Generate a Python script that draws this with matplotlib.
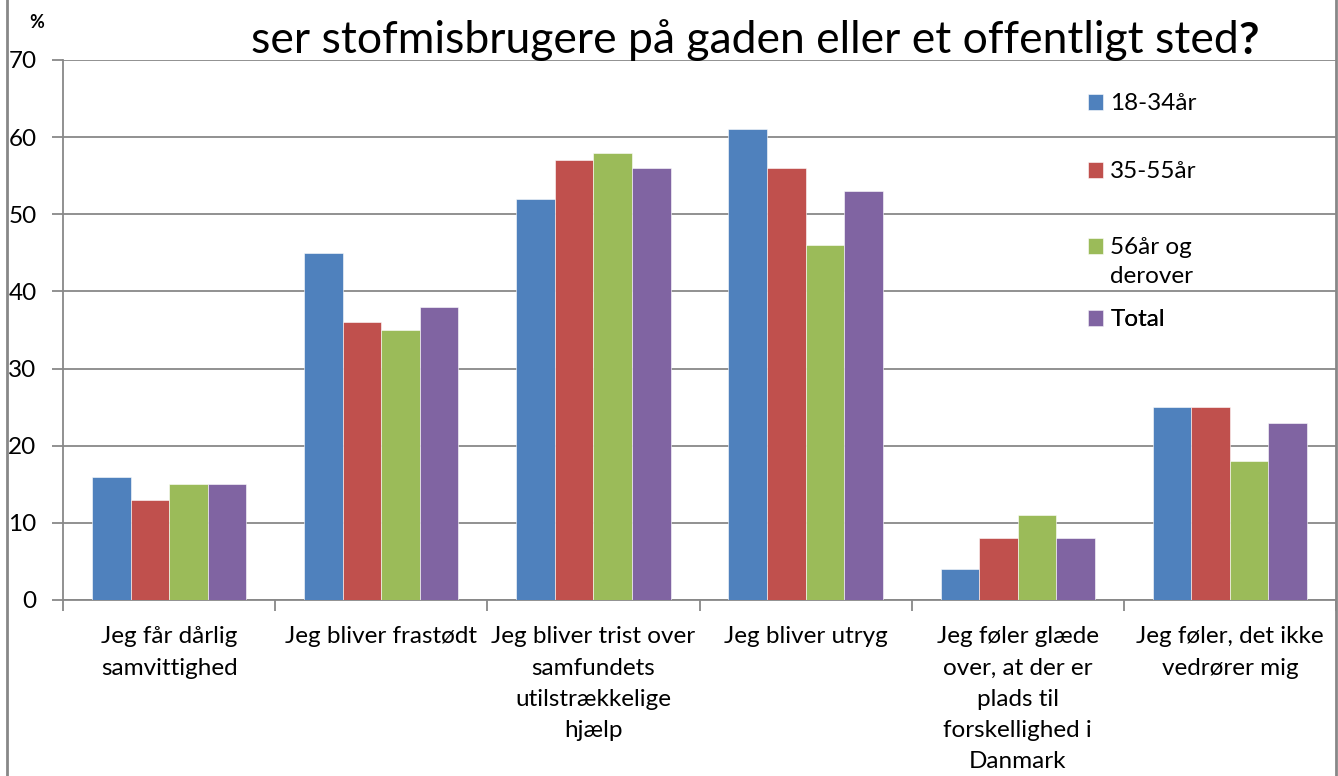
import matplotlib.pyplot as plt
import numpy as np
from matplotlib.patches import Rectangle

plt.rcParams['font.family'] = ['Lato', 'DejaVu Sans']

categories = [
    "Jeg får dårlig\nsamvittighed",
    "Jeg bliver frastødt",
    "Jeg bliver trist over\nsamfundets\nutilstrækkelige\nhjælp",
    "Jeg bliver utryg",
    "Jeg føler glæde\nover, at der er\nplads til\nforskellighed i\nDanmark",
    "Jeg føler, det ikke\nvedrører mig",
]
series_names = ["18-34år", "35-55år", "56år og\nderover", "Total"]
age_18_34 = [16, 45, 52, 61, 4, 25]
age_35_55 = [13, 36, 57, 56, 8, 25]
age_56_plus = [15, 35, 58, 46, 11, 18]
total = [15, 38, 56, 53, 8, 23]
colors = ["#4F81BD", "#C0504D", "#9BBB59", "#8064A2"]

fs = 17.5
fig = plt.figure(figsize=(13.38, 7.76), dpi=100)
ax = fig.add_axes([63 / 1338, 176 / 776, 1273 / 1338, 540 / 776])

x = np.arange(len(categories))
w = 1 / 5.5
handles = []
for i, vals in enumerate([age_18_34, age_35_55, age_56_plus, total]):
    b = ax.bar(x + (i - 1.5) * w, vals, width=w, color=colors[i],
               edgecolor='white', linewidth=0.4, zorder=3)
    handles.append(b)

ax.set_xlim(-0.5, len(categories) - 0.5)
ax.set_ylim(0, 70)
ax.set_yticks(range(0, 71, 10))
ax.yaxis.grid(True, color='#888888', linewidth=1.3, zorder=0)
ax.tick_params(axis='y', length=8, width=1.3, color='#888888', labelsize=fs, pad=11)

ax.set_xticks(x)
ax.set_xticklabels(categories, fontsize=fs, linespacing=1.6, va='top')
ax.tick_params(axis='x', length=0, pad=19)
ax.set_xticks(np.arange(-0.5, len(categories)), minor=True)
ax.tick_params(axis='x', which='minor', length=8, width=1.3, color='#888888')

for s in ['top', 'right']:
    ax.spines[s].set_visible(False)
for s in ['left', 'bottom']:
    ax.spines[s].set_color('#888888')
    ax.spines[s].set_linewidth(1.3)

# legend entries placed one by one, like the Excel layout
leg_y = [104, 172, 262, 320]
for i in range(4):
    leg = ax.legend([handles[i]], [series_names[i]], loc='center left',
                    bbox_to_anchor=((1088 - 63) / 1273, (600 - leg_y[i]) / 540),
                    frameon=False, fontsize=fs, handlelength=0.62, handleheight=0.62,
                    handletextpad=0.3, borderpad=0, borderaxespad=0)
    leg.get_texts()[0].set_linespacing(1.5)
    if i == 2:
        p = leg.legend_handles[0]
        p.set_y(p.get_y() + 11.5)
    ax.add_artist(leg)

# figure border (chart is cropped at top and bottom)
fig.patches.append(Rectangle((7 / 1338, -0.1), 1329 / 1338, 1.2, transform=fig.transFigure,
                             fill=False, edgecolor='#888888', linewidth=2))

t = fig.text(745 / 1338, 1 - 40 / 776, "ser stofmisbrugere på gaden eller et offentligt sted",
             fontsize=32, ha='center', va='center')
ax.annotate("?", xy=(1, 0), xycoords=t, va='bottom', ha='left', fontsize=32, weight='bold')
fig.text(37 / 1338, 1 - 22 / 776, "%", fontsize=13, weight='bold', ha='center', va='center')

fig.savefig('out.png', dpi=100)
